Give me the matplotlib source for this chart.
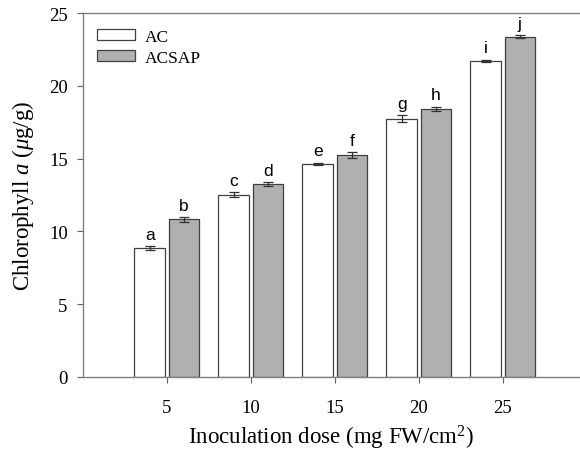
import matplotlib
matplotlib.use("Agg")
import matplotlib.pyplot as plt
import numpy as np

doses = [5, 10, 15, 20, 25]
ac = [8.85, 12.5, 14.65, 17.75, 21.72]
ac_err = [0.12, 0.17, 0.06, 0.25, 0.07]
acsap = [10.82, 13.25, 15.22, 18.43, 23.37]
acsap_err = [0.15, 0.14, 0.2, 0.13, 0.12]
ac_letters = ["a", "c", "e", "g", "i"]
acsap_letters = ["b", "d", "f", "h", "j"]

plt.rcParams["font.family"] = "Liberation Serif"
plt.rcParams["mathtext.fontset"] = "custom"
plt.rcParams["mathtext.rm"] = "Liberation Serif"
plt.rcParams["mathtext.it"] = "Liberation Serif:italic"

fig = plt.figure(figsize=(5.8, 4.52), dpi=100)
ax = fig.add_axes([0.143, 0.164, 0.857, 0.805])

x = np.array(doses, dtype=float)
width = 1.83
off = 1.02
edge = "#404040"
err_kw = dict(ecolor="#303030", elinewidth=0.9, capsize=3.5, capthick=0.9)

ax.bar(x - off, ac, width, yerr=ac_err, color="white", edgecolor=edge,
       linewidth=0.9, label="AC", error_kw=err_kw)
ax.bar(x + off, acsap, width, yerr=acsap_err, color="#b0b0b0", edgecolor=edge,
       linewidth=0.9, label="ACSAP", error_kw=err_kw)

# significance letters above each bar
for xi, v, e, t in zip(x - off, ac, ac_err, ac_letters):
    ax.text(xi, v + e + 0.3, t, ha="center", va="bottom",
            family="Liberation Sans", fontsize=12.5)
for xi, v, e, t in zip(x + off, acsap, acsap_err, acsap_letters):
    ax.text(xi, v + e + 0.3, t, ha="center", va="bottom",
            family="Liberation Sans", fontsize=12.5)

ax.set_xlim(0, 29.6)
ax.set_ylim(0, 25)
ax.set_xticks(doses)
ax.set_yticks([0, 5, 10, 15, 20, 25])
ax.tick_params(direction="out", length=4, width=0.8, color="#606060",
               labelsize=13.5, pad=7)
ax.tick_params(axis="x", pad=12)

for side in ["left", "top", "bottom"]:
    ax.spines[side].set_color("#808080")
    ax.spines[side].set_linewidth(1.0)
ax.spines["right"].set_visible(False)

ax.set_xlabel("Inoculation dose (mg FW/cm$^2$)", fontsize=16.5, labelpad=5)
ax.set_ylabel("Chlorophyll $a$ ($\\mu$g/g)", fontsize=16.5, labelpad=9)

ax.legend(loc="upper left", frameon=False, fontsize=12.5,
          handlelength=2.2, handleheight=0.6, handletextpad=0.55,
          labelspacing=0.3, bbox_to_anchor=(-0.003, 1.0))

plt.savefig("out.png", dpi=100)
